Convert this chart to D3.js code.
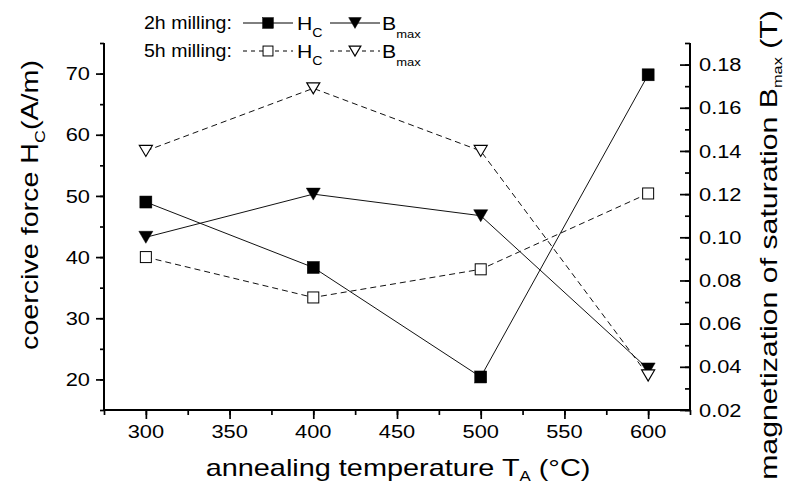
<!DOCTYPE html>
<html>
  <head>
    <meta charset="UTF-8" />
    <style>
      body { margin: 0; background: #fff; }
      text { font-family: "Liberation Sans", Arial, sans-serif; fill: #000; }
    </style>
  </head>
  <body>
    <svg></svg>
    <script src="https://d3js.org/d3.v7.min.js"></script>
    <script>
      let width = 787,
        height = 486;

      // data
      const temps = [300, 400, 500, 600];
      const hc2h = [49, 38.3, 20.4, 69.8];
      const hc5h = [40, 33.4, 38, 50.4];
      const bmax2h = [0.1, 0.12, 0.11, 0.039];
      const bmax5h = [0.14, 0.169, 0.14, 0.036];

      const xTicks = [300, 350, 400, 450, 500, 550, 600];
      const yLeftTicks = [20, 30, 40, 50, 60, 70];
      const yRightTicks = [0.02, 0.04, 0.06, 0.08, 0.1, 0.12, 0.14, 0.16, 0.18];

      let svg = d3.select("svg").attr("width", width).attr("height", height);

      let x = d3.scaleLinear().domain([275, 625]).range([104, 690]);
      let yL = d3.scaleLinear().domain([15, 75]).range([410, 43]);
      let yR = d3.scaleLinear().domain([0.02, 0.19]).range([410, 43]);

      // text helper: the original lettering is wider than Arial, so stretch it
      function label(parent, o) {
        let g = parent
          .append("g")
          .attr("transform", `translate(${o.x},${o.y}) rotate(${o.rot || 0})`);
        let t = g
          .append("text")
          .attr("text-anchor", o.anchor || "start")
          .style("font-size", o.size + "px");
        o.parts.forEach((p, i) => {
          let ts = t.append("tspan").text(p[0]);
          if (p[1]) {
            ts.attr("dy", p[1]).style("font-size", p[2] + "px");
          } else if (i > 0 && o.parts[i - 1][1]) {
            ts.attr("dy", -o.parts[i - 1][1]);
          }
        });
        let k = o.k || 1.18;
        if (o.len) k = o.len / t.node().getBBox().width;
        t.attr("transform", `scale(${k},1)`);
        return g;
      }

      // ticks
      let xAxis = svg.append("g").attr("transform", "translate(0,410)");
      xAxis.append("g")
        .call(d3.axisBottom(x).tickValues(d3.range(275, 626, 25)).tickSize(5).tickFormat(""));
      xAxis.append("g")
        .call(d3.axisBottom(x).tickValues(xTicks).tickSize(9).tickFormat(""));

      let yAxisL = svg.append("g").attr("transform", "translate(104,0)");
      yAxisL.append("g")
        .call(d3.axisLeft(yL).tickValues(d3.range(15, 76, 5)).tickSize(4).tickFormat(""));
      yAxisL.append("g")
        .call(d3.axisLeft(yL).tickValues(yLeftTicks).tickSize(8).tickFormat(""));

      // right axis ticks point inward
      let yAxisR = svg.append("g").attr("transform", "translate(690,0)");
      yAxisR.append("g")
        .call(d3.axisLeft(yR).tickValues(d3.range(2, 20).map((d) => d / 100)).tickSize(5).tickFormat(""));
      yAxisR.append("g")
        .call(d3.axisLeft(yR).tickValues(yRightTicks).tickSize(10).tickFormat(""));

      svg.selectAll(".domain").remove();
      svg.selectAll(".tick line").attr("stroke", "#000").attr("stroke-width", 1.7);

      // tick labels
      xTicks.forEach((v) =>
        label(svg, { x: x(v), y: 438, anchor: "middle", size: 18.5, parts: [[d3.format("d")(v)]] })
      );
      yLeftTicks.forEach((v) =>
        label(svg, { x: 90, y: yL(v) + 6.6, anchor: "end", size: 18.5, parts: [[d3.format("d")(v)]] })
      );
      yRightTicks.forEach((v) =>
        label(svg, { x: 699, y: yR(v) + 6.6, size: 18.5, parts: [[d3.format(".2f")(v)]] })
      );

      // axis lines
      svg.append("path")
        .attr("d", "M104,43V410H690V43")
        .attr("fill", "none")
        .attr("stroke", "#000")
        .attr("stroke-width", 2);

      // series
      let series = [
        { vals: hc2h, y: yL, dash: null, mark: "sq", fill: "#000" },
        { vals: bmax2h, y: yR, dash: null, mark: "tri", fill: "#000" },
        { vals: hc5h, y: yL, dash: "6,4", mark: "sq", fill: "#fff" },
        { vals: bmax5h, y: yR, dash: "6,4", mark: "tri", fill: "#fff" },
      ];

      series.forEach((s) => {
        let line = d3
          .line()
          .x((d, i) => x(temps[i]))
          .y((d) => s.y(d));
        svg.append("path")
          .attr("d", line(s.vals))
          .attr("fill", "none")
          .attr("stroke", "#111")
          .attr("stroke-width", 1)
          .attr("stroke-dasharray", s.dash);
      });

      function drawMarker(g, type, fill, cx, cy, scale) {
        scale = scale || 1;
        if (type == "sq") {
          let sz = (fill == "#000" ? 12 : 11) * scale;
          g.append("rect")
            .attr("x", cx - sz / 2)
            .attr("y", cy - sz / 2)
            .attr("width", sz)
            .attr("height", sz)
            .attr("fill", fill)
            .attr("stroke", "#000")
            .attr("stroke-width", fill == "#000" ? 0.5 : 1);
        } else {
          let w = (fill == "#000" ? 14 : 13) * scale;
          let h = (fill == "#000" ? 12 : 11) * scale;
          g.append("path")
            .attr("d", `M${cx - w / 2},${cy - h / 2}L${cx + w / 2},${cy - h / 2}L${cx},${cy + h / 2}Z`)
            .attr("fill", fill)
            .attr("stroke", "#000")
            .attr("stroke-width", fill == "#000" ? 0.5 : 1.2);
        }
      }

      let marks = svg.append("g");
      series.forEach((s) => {
        s.vals.forEach((v, i) => drawMarker(marks, s.mark, s.fill, x(temps[i]), s.y(v)));
      });

      // axis titles
      label(svg, {
        x: 38, y: 205, rot: -90, anchor: "middle", size: 24, len: 290,
        parts: [["coercive force H"], ["C", 7, 15], ["(A/m)"]],
      });
      label(svg, {
        x: 777, y: 245, rot: -90, anchor: "middle", size: 24, len: 470,
        parts: [["magnetization of saturation B"], ["max", 5, 13], [" (T)"]],
      });
      label(svg, {
        x: 398, y: 476, anchor: "middle", size: 24, len: 385,
        parts: [["annealing temperature T"], ["A", 5, 14], [" (°C)"]],
      });

      // legend
      let legendRows = [
        { label: "2h milling:", dash: null, fill: "#000", y: 23 },
        { label: "5h milling:", dash: "4,4", fill: "#fff", y: 51 },
      ];
      let lg = svg.append("g");
      legendRows.forEach((r) => {
        label(lg, { x: 144, y: r.y + 6, size: 18, len: 88, parts: [[r.label]] });
        [[243, 293, "sq", 297], [330, 380, "tri", 382]].forEach(([x0, x1, m, tx]) => {
          lg.append("line")
            .attr("x1", x0).attr("x2", x1).attr("y1", r.y).attr("y2", r.y)
            .attr("stroke", "#000").attr("stroke-dasharray", r.dash);
          drawMarker(lg, m, r.fill, (x0 + x1) / 2, r.y, 0.9);
          label(lg, {
            x: tx, y: r.y + 6.5, size: 18,
            parts: m == "sq" ? [["H"], ["C", 7, 12]] : [["B"], ["max", 8, 11]],
          });
        });
      });
    </script>
  </body>
</html>
